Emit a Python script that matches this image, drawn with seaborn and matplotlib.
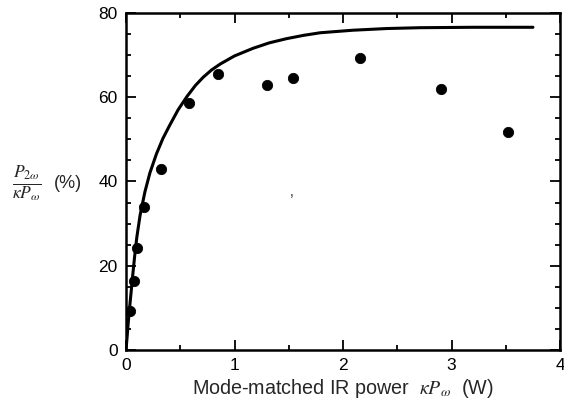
import seaborn as sns
import pandas as pd
import matplotlib.pyplot as plt
from matplotlib.ticker import MultipleLocator

#-----------------------------------------------------------------------------------------------------------------------
"""Data read off the figure"""
# measured points
power_pts = [0.037, 0.074, 0.104, 0.169, 0.32, 0.58, 0.845, 1.30, 1.54, 2.16, 2.90, 3.52]
eff_pts = [9.3, 16.3, 24.2, 33.9, 43.0, 58.6, 65.4, 62.9, 64.6, 69.4, 61.9, 51.8]

# theory curve
power_curve = [0, 0.01, 0.02, 0.035, 0.05, 0.065, 0.08, 0.10, 0.13, 0.175, 0.22, 0.28, 0.34, 0.40, 0.48,
               0.56, 0.64, 0.71, 0.79, 0.87, 1.0, 1.17, 1.32, 1.48, 1.64, 1.79, 2.09, 2.4, 2.71, 3.2, 3.75]
eff_curve = [0, 3.0, 6.3, 10.5, 14.5, 18.5, 22.3, 26.8, 32.0, 37.6, 42.0, 46.5, 50.2, 53.2, 57.0,
             60.1, 62.8, 64.7, 66.5, 67.9, 69.8, 71.6, 72.9, 73.9, 74.7, 75.3, 75.9, 76.3, 76.5, 76.6, 76.6]

x_ticks = [0, 1, 2, 3, 4]
y_ticks = [0, 20, 40, 60, 80]

df_pts = pd.DataFrame({'power': power_pts, 'eff': eff_pts})
df_curve = pd.DataFrame({'power': power_curve, 'eff': eff_curve})

#-----------------------------------------------------------------------------------------------------------------------
"""Style"""
sns.set_style('ticks')
plt.rcParams['font.family'] = ['Liberation Sans', 'DejaVu Sans']
plt.rcParams['mathtext.fontset'] = 'stix'

fig, ax = plt.subplots(figsize=(5.64, 4.05), dpi=100)
fig.subplots_adjust(left=0.2234, right=0.993, top=0.968, bottom=0.136)

#-----------------------------------------------------------------------------------------------------------------------
"""Plotting"""
sns.lineplot(data=df_curve, x='power', y='eff', color='black', linewidth=2.2, ax=ax)
sns.scatterplot(data=df_pts, x='power', y='eff', color='black', s=55, edgecolor='black', zorder=3, ax=ax)

# little scan speck in the middle of the plot
ax.text(1.53, 37.5, ',', fontsize=10, ha='center', va='center')

#-----------------------------------------------------------------------------------------------------------------------
"""Axes"""
ax.set_xlim(0, 4)
ax.set_ylim(0, 80)
ax.set_xticks(x_ticks)
ax.set_yticks(y_ticks)
ax.xaxis.set_minor_locator(MultipleLocator(0.5))
ax.yaxis.set_minor_locator(MultipleLocator(5))
ax.tick_params(which='both', direction='in', top=True, right=True, width=1.3, colors='black', labelsize=12.5)
ax.tick_params(which='major', length=7, pad=6)
ax.tick_params(which='minor', length=3.5)
for sp in ax.spines.values():
    sp.set_linewidth(1.8)
    sp.set_color('black')

ax.set_xlabel(r'Mode-matched IR power  $\kappa P_{\omega}$  (W)', fontsize=14.2, labelpad=3)
ax.set_ylabel('')

# y label written sideways next to the 40 tick
fig.text(0.047, 0.545, r'$\frac{P_{2\omega}}{\kappa P_{\omega}}$', fontsize=18, ha='center', va='center')
fig.text(0.12, 0.548, '(%)', fontsize=13, ha='center', va='center')

fig.savefig('out.png', dpi=100)
